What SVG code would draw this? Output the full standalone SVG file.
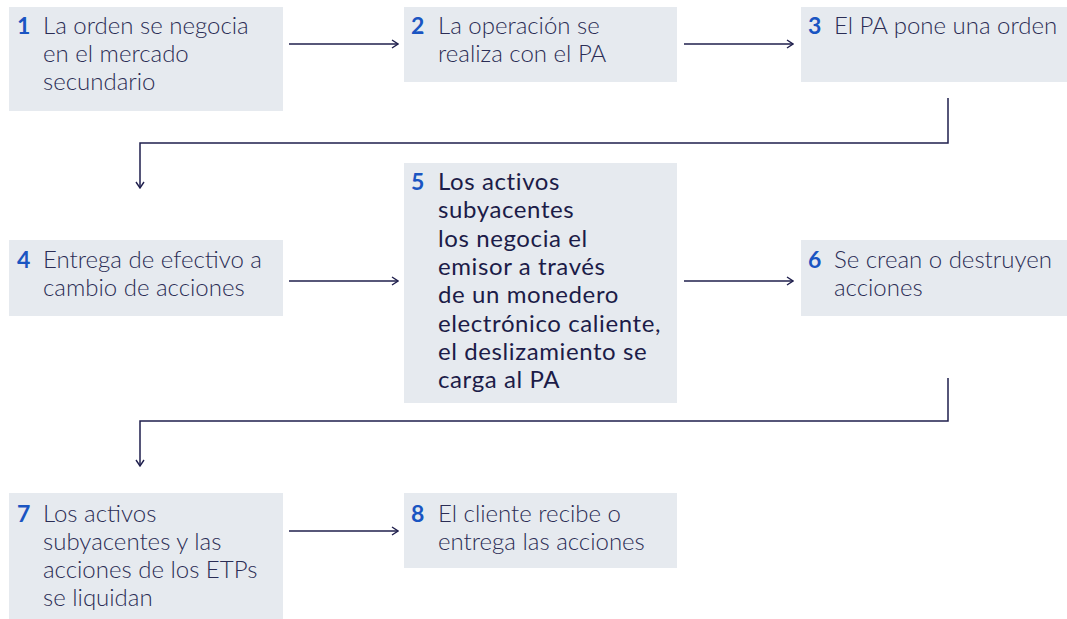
<svg xmlns="http://www.w3.org/2000/svg" width="1067" height="619" viewBox="0 0 1067 619">
<defs>
<style>
.box{fill:#e6eaef}
.t{font-family:Lato,"Noto Sans","Liberation Sans",sans-serif;font-size:24px;font-weight:300;fill:#2b2d55}
.t5{font-weight:400;fill:#1c1c48;font-size:24px;letter-spacing:0.6px}
.n{font-family:Lato,"Noto Sans","Liberation Sans",sans-serif;font-size:23px;font-weight:700;fill:#1a55c2}
.c{fill:none;stroke:#1f1f4d;stroke-width:1.5}
</style>
<marker id="ah" viewBox="0 0 10 10" refX="9" refY="5" markerWidth="10" markerHeight="10" markerUnits="userSpaceOnUse" orient="auto">
<path d="M3,1 L9,5 L3,9" fill="none" stroke="#1f1f4d" stroke-width="1.4"/>
</marker>
</defs>
<rect width="1067" height="619" fill="#ffffff"/>
<g id="node1"><rect class="box" x="9" y="7" width="274" height="104"/>
<text class="n" x="17" y="34">1</text>
<text class="t" x="43" y="34">La orden se negocia</text><text class="t" x="43" y="62">en el mercado</text><text class="t" x="43" y="90">secundario</text></g>
<g id="node2"><rect class="box" x="404" y="7" width="273" height="75"/>
<text class="n" x="411" y="34">2</text>
<text class="t" x="438" y="34">La operación se</text><text class="t" x="438" y="62">realiza con el PA</text></g>
<g id="node3"><rect class="box" x="801" y="7" width="266" height="75"/>
<text class="n" x="808" y="34">3</text>
<text class="t" x="834" y="34">El PA pone una orden</text></g>
<g id="node4"><rect class="box" x="9" y="240" width="274" height="76"/>
<text class="n" x="17" y="268">4</text>
<text class="t" x="43" y="268">Entrega de efectivo a</text><text class="t" x="43" y="296">cambio de acciones</text></g>
<g id="node5"><rect class="box" x="404" y="163" width="273" height="240"/>
<text class="n" x="411" y="190">5</text>
<text class="t t5" x="438" y="190">Los activos</text>
<text class="t t5" x="438" y="218">subyacentes</text>
<text class="t t5" x="438" y="247">los negocia el</text>
<text class="t t5" x="438" y="275">emisor a través</text>
<text class="t t5" x="438" y="303">de un monedero</text>
<text class="t t5" x="438" y="332">electrónico caliente,</text>
<text class="t t5" x="438" y="360">el deslizamiento se</text>
<text class="t t5" x="438" y="388">carga al PA</text></g>
<g id="node6"><rect class="box" x="801" y="240" width="266" height="76"/>
<text class="n" x="808" y="268">6</text>
<text class="t" x="834" y="268">Se crean o destruyen</text><text class="t" x="834" y="296">acciones</text></g>
<g id="node7"><rect class="box" x="9" y="493" width="274" height="126"/>
<text class="n" x="17" y="522">7</text>
<text class="t" x="43" y="522">Los activos</text><text class="t" x="43" y="550">subyacentes y las</text><text class="t" x="43" y="578">acciones de los ETPs</text><text class="t" x="43" y="606">se liquidan</text></g>
<g id="node8"><rect class="box" x="404" y="493" width="273" height="75"/>
<text class="n" x="411" y="522">8</text>
<text class="t" x="438" y="522">El cliente recibe o</text><text class="t" x="438" y="550">entrega las acciones</text></g>
<g id="connectors">
<path class="c" d="M289,44 H398" marker-end="url(#ah)"/>
<path class="c" d="M684,44 H793" marker-end="url(#ah)"/>
<path class="c" d="M948,98 V143 H140 V188" marker-end="url(#ah)"/>
<path class="c" d="M289,281 H398" marker-end="url(#ah)"/>
<path class="c" d="M684,281 H793" marker-end="url(#ah)"/>
<path class="c" d="M948,378 V421 H140 V466" marker-end="url(#ah)"/>
<path class="c" d="M289,531 H398" marker-end="url(#ah)"/>
</g>
</svg>
